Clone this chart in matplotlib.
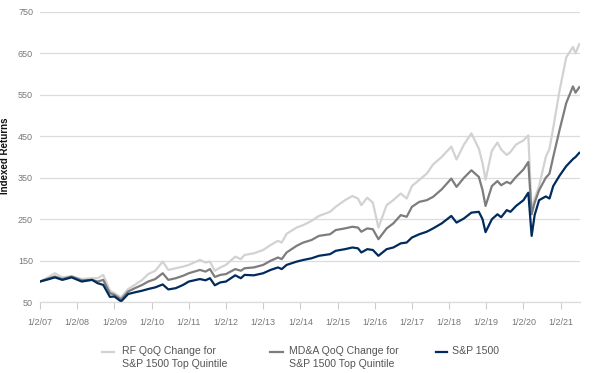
import matplotlib
matplotlib.use("Agg")
import matplotlib.pyplot as plt
from matplotlib.lines import Line2D

# ---- data (decimal years, index values) ----
dates = [2007.0, 2007.25, 2007.4, 2007.6, 2007.85, 2008.12, 2008.4, 2008.55, 2008.7,
         2008.88, 2009.0, 2009.18, 2009.37, 2009.55, 2009.75, 2009.91, 2010.1, 2010.3,
         2010.45, 2010.65, 2010.85, 2011.0, 2011.3, 2011.45, 2011.57, 2011.7, 2011.85,
         2012.0, 2012.25, 2012.4, 2012.5, 2012.75, 2013.0, 2013.2, 2013.4, 2013.5,
         2013.63, 2013.9, 2014.08, 2014.3, 2014.5, 2014.8, 2014.95, 2015.2, 2015.4,
         2015.55, 2015.64, 2015.8, 2015.95, 2016.1, 2016.32, 2016.5, 2016.7, 2016.86,
         2017.0, 2017.2, 2017.4, 2017.57, 2017.8, 2018.06, 2018.2, 2018.4, 2018.6,
         2018.8, 2018.9, 2018.98, 2019.15, 2019.3, 2019.4, 2019.55, 2019.65, 2019.8,
         2020.0, 2020.13, 2020.22, 2020.3, 2020.42, 2020.6, 2020.7, 2020.8, 2020.97,
         2021.15, 2021.33, 2021.4, 2021.5]
sp1500 = [100, 106, 110, 104, 110, 100, 104, 96, 92,
          63, 64, 52, 70, 74, 78, 82, 86, 93,
          81, 84, 92, 100, 106, 103, 108, 91, 98,
          100, 115, 108, 116, 115, 120, 128, 134, 130,
          140, 148, 152, 156, 162, 166, 174, 178, 182,
          180, 170, 178, 176, 162, 178, 182, 192, 194,
          206, 214, 220, 228, 240, 258, 242, 252, 266,
          268, 250, 219, 250, 262, 255, 272, 268, 282,
          296, 314, 210, 260, 296, 305, 300, 330, 355,
          378, 395, 400, 410]
mda = [100, 108, 112, 106, 112, 103, 104, 100, 104,
       72, 68, 57, 76, 84, 92, 100, 106, 120,
       104, 108, 114, 120, 128, 124, 130, 111, 116,
       118, 130, 126, 132, 134, 140, 150, 158, 154,
       170, 186, 194, 200, 210, 214, 224, 228, 232,
       230, 220, 228, 226, 202, 228, 240, 260, 256,
       280, 292, 296, 304, 322, 348, 328, 350, 368,
       352, 320, 282, 330, 342, 332, 340, 336, 352,
       370, 388, 262, 290, 320, 350, 360, 400, 465,
       530, 570, 555, 568]
rf = [100, 112, 120, 110, 113, 106, 108, 108, 116,
      78, 72, 62, 82, 92, 104, 118, 126, 148,
      128, 132, 136, 140, 152, 146, 148, 126, 134,
      140, 160, 154, 164, 168, 176, 188, 198, 194,
      215, 230, 236, 246, 258, 268, 280, 296, 306,
      300, 284, 302, 290, 230, 284, 296, 312, 300,
      330, 345, 360, 382, 400, 425, 394, 430, 457,
      420, 385, 345, 415, 435, 418, 405, 412, 430,
      440, 452, 268, 300, 330, 400, 420, 470, 560,
      640, 665, 650, 672]

series_labels = ["RF QoQ Change for\nS&P 1500 Top Quintile",
                 "MD&A QoQ Change for\nS&P 1500 Top Quintile",
                 "S&P 1500"]
colors = ["#d2d2d2", "#7d7d7d", "#002b5c"]
year_ticks = list(range(2007, 2022))
tick_labels = ["1/2/%02d" % (y % 100) for y in year_ticks]
y_ticks = [50, 150, 250, 350, 450, 550, 650, 750]

plt.rcParams['font.family'] = ['Liberation Sans', 'DejaVu Sans']

W, H = 595, 373
fig = plt.figure(figsize=(W / 100, H / 100), dpi=100)
ax = fig.add_axes([40/W, 70.7/H, 540/W, 290.6/H])

for vals, c, lab in zip([rf, mda, sp1500], colors, series_labels):
    ax.plot(dates, vals, color=c, lw=1.6, label=lab, solid_joinstyle='round')

ax.set_xlim(2007, 2021.52)
ax.set_ylim(50, 750)
ax.set_yticks(y_ticks)
ax.set_xticks(year_ticks)
ax.set_xticklabels(tick_labels)
ax.grid(axis='y', color='#dcdcdc', lw=0.9)
ax.set_axisbelow(True)
for s in ['top', 'right', 'left']:
    ax.spines[s].set_visible(False)
ax.spines['bottom'].set_color('#dcdcdc')
ax.spines['bottom'].set_linewidth(0.9)
ax.tick_params(axis='y', length=0, labelsize=6.5, labelcolor='#777777', pad=5)
ax.tick_params(axis='x', length=5, color='#cccccc', width=0.8, labelsize=6.5,
               labelcolor='#777777', pad=6)

fig.text(5.5/W, 1 - 156/H, "Indexed Returns", rotation=90, ha='center', va='center',
         fontsize=7, fontweight='bold', color='#111111')

# legend, drawn in figure pixel positions (handles level with first text line)
handle_x = [(102, 114), (270, 283), (436, 447)]
text_x = [121.5, 289, 452.5]
for (x0, x1), tx, c, lab in zip(handle_x, text_x, colors, series_labels):
    fig.add_artist(Line2D([x0/W, x1/W], [1 - 351.5/H, 1 - 351.5/H], color=c, lw=1.6,
                          transform=fig.transFigure))
    fig.text(tx/W, 1 - 345.5/H, lab, ha='left', va='top', fontsize=7.6,
             color='#555555', linespacing=1.45)

fig.savefig("out.png", dpi=100)
